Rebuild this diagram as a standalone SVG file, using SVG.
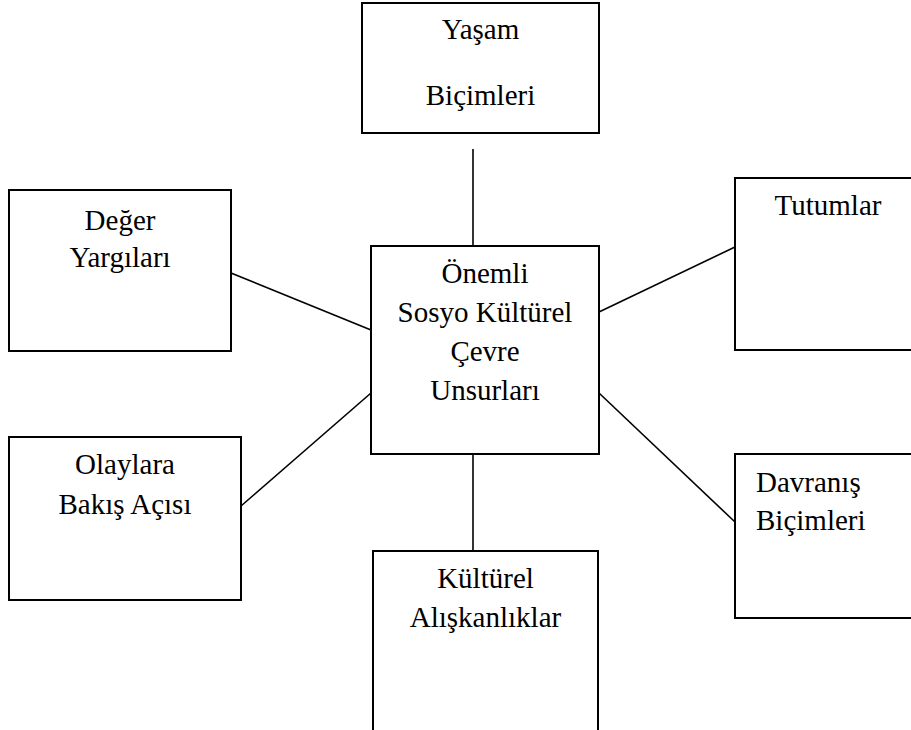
<svg xmlns="http://www.w3.org/2000/svg" width="911" height="730" viewBox="0 0 911 730">
<style>
.box{fill:#fff;stroke:#000;stroke-width:2}
.con{stroke:#000;stroke-width:1.6;fill:none}
text{font-family:"Liberation Serif","Times New Roman",serif;font-size:29px;fill:#000}
.c{text-anchor:middle}
</style>
<rect width="911" height="730" fill="#fff"/>
<g id="connectors">
<line class="con" x1="473" y1="149" x2="473" y2="246"/>
<line class="con" x1="473" y1="454" x2="473" y2="551"/>
<line class="con" x1="231" y1="273" x2="371" y2="330"/>
<line class="con" x1="241" y1="506" x2="371" y2="393"/>
<line class="con" x1="599" y1="312" x2="735" y2="247"/>
<line class="con" x1="599" y1="393" x2="735" y2="522"/>
</g>
<g id="yasam">
<rect class="box" x="362" y="3" width="237" height="130"/>
<text class="c" x="480.5" y="39">Yaşam</text>
<text class="c" x="480.5" y="105">Biçimleri</text>
</g>
<g id="deger">
<rect class="box" x="9" y="190" width="222" height="161"/>
<text class="c" x="120" y="230">Değer</text>
<text class="c" x="120" y="267">Yargıları</text>
</g>
<g id="onemli">
<rect class="box" x="371" y="246" width="228" height="208"/>
<text class="c" x="485" y="283">Önemli</text>
<text class="c" x="485" y="322">Sosyo Kültürel</text>
<text class="c" x="485" y="361">Çevre</text>
<text class="c" x="485" y="400">Unsurları</text>
</g>
<g id="tutumlar">
<rect class="box" x="735" y="178" width="200" height="172"/>
<text class="c" x="828" y="215">Tutumlar</text>
</g>
<g id="olaylara">
<rect class="box" x="9" y="437" width="232" height="163"/>
<text class="c" x="125" y="474">Olaylara</text>
<text class="c" x="125" y="514">Bakış Açısı</text>
</g>
<g id="davranis">
<rect class="box" x="735" y="454" width="200" height="164"/>
<text x="756" y="492">Davranış</text>
<text x="756" y="530">Biçimleri</text>
</g>
<g id="kulturel">
<rect class="box" x="373" y="551" width="225" height="220"/>
<text class="c" x="485.5" y="588">Kültürel</text>
<text class="c" x="485.5" y="627">Alışkanlıklar</text>
</g>
</svg>
